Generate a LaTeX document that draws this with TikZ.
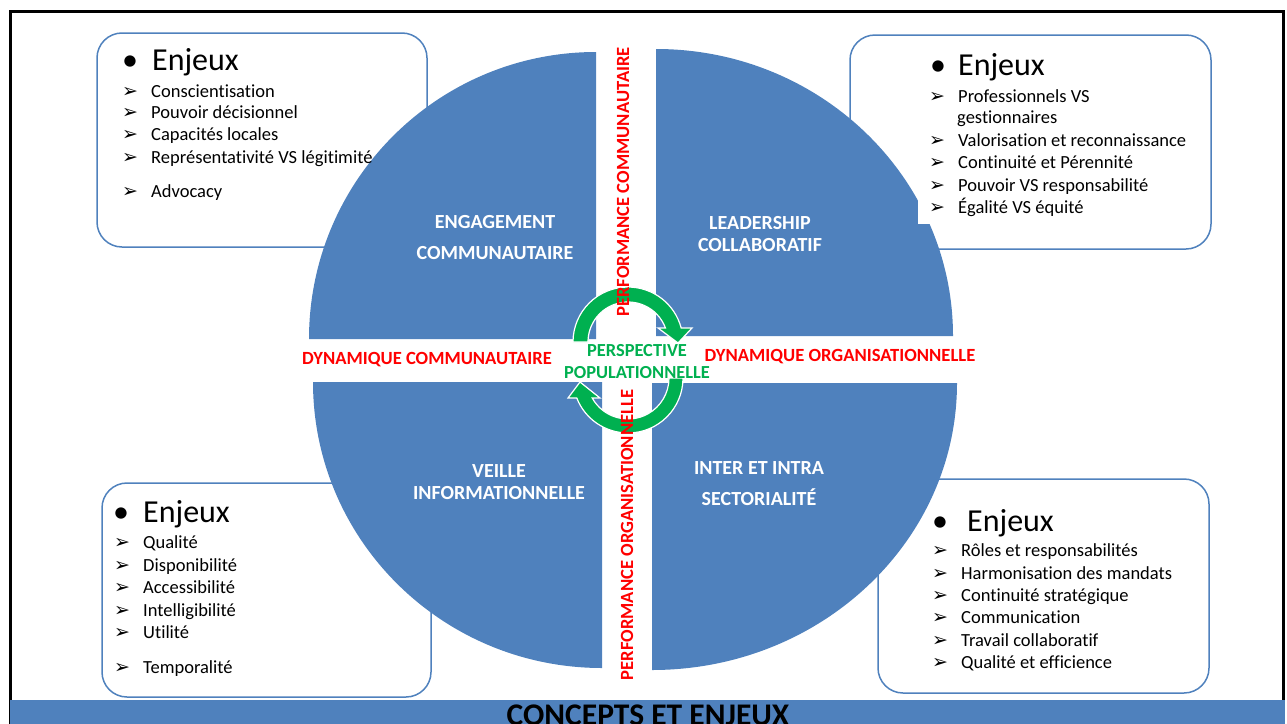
\documentclass[tikz,border=0pt]{standalone}
\usepackage{fontspec}
\setmainfont{Carlito}[Ligatures=NoCommon]
\newfontfamily\dingfont{DejaVu Sans}
\definecolor{qblue}{HTML}{4F81BD}
\definecolor{pgreen}{HTML}{00B050}
\newcommand{\puce}{\makebox[29pt][l]{\dingfont\fontsize{19}{19}\selectfont\char"27A2}}

\begin{document}
\begin{tikzpicture}[x=1pt, y=-1pt,
	box/.style={draw=qblue, line width=1.5, fill=white, rounded corners=25},
	quad/.style={fill=qblue},
	quadlabel/.style={font=\bfseries\fontsize{20}{22}\selectfont, text=white, align=center, inner sep=0},
	axis/.style={font=\bfseries\fontsize{18.6}{20}\selectfont, text=red, inner sep=0},
	enjeu/.style={font=\fontsize{32}{36}\selectfont, anchor=base west, inner sep=0},
	item/.style={font=\fontsize{18.5}{22}\selectfont, anchor=base west, inner sep=0},
	fleche/.style={fill=pgreen, draw=white, line width=1.2}
]
\useasboundingbox (0,0) rectangle (1287,723);
% frame and title bar
\draw[line width=3] (10.5,730) -- (10.5,11) -- (1283,11) -- (1283,730);
\fill[qblue] (10,700) rectangle (1285,730);
\node[font=\bfseries\fontsize{31.5}{34}\selectfont, anchor=base, inner sep=0] (titre) at (648,725) {CONCEPTS ET ENJEUX};

% boxes of stakes
\draw[box] (97,33) rectangle (427,247);
\draw[box] (850,35) rectangle (1211,249);
\draw[box] (102,483) rectangle (431,697);
\draw[box] (878,479) rectangle (1209,693);

% the four quadrants
\coordinate (q1) at (596,339);
\coordinate (q2) at (656,336);
\coordinate (q3) at (602,382);
\coordinate (q4) at (652,383);
\fill[quad] (q1) -- ++(-287,0) arc[start angle=180, end angle=270, radius=287] -- cycle;
\fill[quad] (q2) -- ++(0,-287) arc[start angle=270, end angle=360, x radius=297, y radius=287] -- cycle;
\fill[quad] (q3) -- ++(-289,0) arc[start angle=180, end angle=90, x radius=289, y radius=286] -- cycle;
\fill[quad] (q4) -- ++(305,0) arc[start angle=0, end angle=90, x radius=305, y radius=287] -- cycle;
\fill[white] (918,40) rectangle (1200,224);

% circular arrows
\begin{scope}[shift={(628,342)}]
\draw[fleche] (180:55) arc[start angle=180, end angle=345.3, radius=55] -- (64,-14) -- (50,1) -- (30,-14) -- (339.5:40) arc[start angle=339.5, end angle=180, radius=40] -- cycle;
\end{scope}
\begin{scope}[shift={(628,378)}]
\draw[fleche] (0:55) arc[start angle=0, end angle=158.7, radius=55] -- (-60,20) -- (-48,4) -- (-28,20) -- (150.8:41) arc[start angle=150.8, end angle=0, radius=41] -- cycle;
\end{scope}

% stakes
\node[enjeu] (tlhead) at (122,70) {\makebox[30pt][l]{•}Enjeux};
\foreach \txt/\yy [count=\i] in {Conscientisation/97, Pouvoir décisionnel/118, Capacités locales/140, Représentativité VS légitimité/163, Advocacy/197}
	\node[item] (tl\i) at (122,\yy) {\puce\txt};

\node[enjeu] (trhead) at (930,75) {\makebox[28pt][l]{•}Enjeux};
\foreach \txt/\yy [count=\i] in {Professionnels VS/102, Valorisation et reconnaissance/146, Continuité et Pérennité/168, Pouvoir VS responsabilité/191, Égalité VS équité/213}
	\node[item] (tr\i) at (929,\yy) {\puce\txt};
\node[item] (tr1b) at (957,123) {gestionnaires};

\node[enjeu] (blhead) at (113,522) {\makebox[30pt][l]{•}Enjeux};
\foreach \txt/\yy [count=\i] in {Qualité/548, Disponibilité/571, Accessibilité/593, Intelligibilité/616, Utilité/638, Temporalité/673}
	\node[item] (bl\i) at (114,\yy) {\puce\txt};

\node[enjeu] (brhead) at (932,531) {\makebox[35pt][l]{•}Enjeux};
\foreach \txt/\yy [count=\i] in {Rôles et responsabilités/556, Harmonisation des mandats/579, Continuité stratégique/601, Communication/623, Travail collaboratif/646, Qualité et efficience/668}
	\node[item] (br\i) at (932,\yy) {\puce\txt};

% concepts
\node[quadlabel] (engagement) at (495,237.5) {ENGAGEMENT\\[9pt]COMMUNAUTAIRE};
\node[quadlabel] (leadership) at (760,234) {LEADERSHIP\\COLLABORATIF};
\node[quadlabel] (veille) at (499,482) {VEILLE\\INFORMATIONNELLE};
\node[quadlabel] (inter) at (759,483.5) {INTER ET INTRA\\[9pt]SECTORIALITÉ};

% axes
\node[axis] (dyncom) at (427,360) {DYNAMIQUE COMMUNAUTAIRE};
\node[axis] (dynorg) at (840,357) {DYNAMIQUE ORGANISATIONNELLE};
\node[axis, rotate=90] (perfcom) at (623,182) {PERFORMANCE COMMUNAUTAIRE};
\node[axis, rotate=90] (perforg) at (627,535) {PERFORMANCE ORGANISATIONNELLE};
\node[font=\bfseries\fontsize{18.4}{22}\selectfont, text=pgreen, align=center, inner sep=0] (perspective) at (637,362) {PERSPECTIVE\\POPULATIONNELLE};
\end{tikzpicture}
\end{document}
